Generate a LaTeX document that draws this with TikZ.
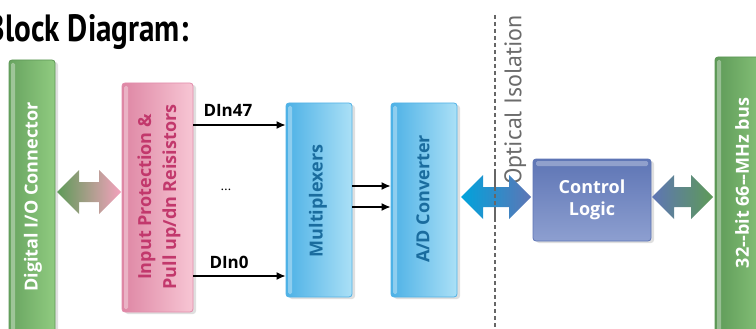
\documentclass[tikz,border=0pt]{standalone}
\usepackage{fontspec}
\setmainfont{PT Sans}
\newfontfamily\blockfont{Open Sans}
\usetikzlibrary{arrows,arrows.meta,positioning,calc,shadows}

\definecolor{grnD}{HTML}{5E9A58}
\definecolor{grnL}{HTML}{90CB80}
\definecolor{grnE}{HTML}{5C9655}
\definecolor{pnkD}{HTML}{DE86A4}
\definecolor{pnkL}{HTML}{F7C6D4}
\definecolor{pnkE}{HTML}{E38DAC}
\definecolor{pnkT}{HTML}{C2386C}
\definecolor{bluD}{HTML}{4DB1E6}
\definecolor{bluL}{HTML}{ABE0F6}
\definecolor{bluE}{HTML}{52B2E6}
\definecolor{bluT}{HTML}{1A6C9E}
\definecolor{ctlD}{HTML}{5E75B5}
\definecolor{ctlL}{HTML}{8D9FD0}
\definecolor{cyanA}{HTML}{00A3DC}
\definecolor{arrP}{HTML}{F4A2BD}

% double headed block arrow between two named points
\newcommand{\dblarrow}[4]{%
  \path[left color=#3, right color=#4]
    let \p1=(#1), \p2=(#2) in
    (\x1,\y1) -- (\x1+22pt,\y1+22pt) -- (\x1+22pt,\y1+10pt)
    -- (\x2-22pt,\y2+10pt) -- (\x2-22pt,\y2+22pt) -- (\x2,\y2)
    -- (\x2-22pt,\y2-22pt) -- (\x2-22pt,\y2-10pt)
    -- (\x1+22pt,\y1-10pt) -- (\x1+22pt,\y1-22pt) -- cycle;
}

\begin{document}
\begin{tikzpicture}[x=1pt,y=-1pt,>={Latex[length=9pt,width=8pt]},
    block/.style={rounded corners=3pt, line width=0.8pt, inner sep=0pt,
      drop shadow={shadow xshift=3pt,shadow yshift=-2pt,fill=black!25}},
    gloss/.style={path picture={
      \fill[white,opacity=0.35,rounded corners=1.5pt]
        ([xshift=2pt,yshift=-3pt]path picture bounding box.north west)
        rectangle ([xshift=6pt,yshift=3pt]path picture bounding box.south west);}},
    greenbar/.style={block, gloss, draw=grnE, left color=grnD!80!grnL, right color=grnL},
    pinkbox/.style={block, gloss, draw=pnkE, left color=pnkD, right color=pnkL},
    bluebox/.style={block, gloss, draw=bluE, left color=bluD, right color=bluL},
    ctlbox/.style={block, draw=ctlD, top color=ctlD, bottom color=ctlL,
      path picture={\fill[white,opacity=0.3,rounded corners=1.5pt]
        ([xshift=3pt,yshift=-2pt]path picture bounding box.north west)
        rectangle ([xshift=-3pt,yshift=-7pt]path picture bounding box.north east);}},
    boxtext/.style={font=\blockfont\bfseries\fontsize{18}{25}\selectfont, align=center},
    sigline/.style={->, line width=1.5pt, black},
    siglabel/.style={font=\blockfont\bfseries\fontsize{17}{20}\selectfont, anchor=base west},
    isoline/.style={draw=black!60, line width=2pt, dash pattern=on 4pt off 3pt}]

  \useasboundingbox (0,0) rectangle (756,329);

  % title
  \node[font=\bfseries\fontsize{38}{40}\selectfont, anchor=base east]
    (title) at (192,42) {\scalebox{0.82}[1]{Block Diagram:}};

  % blocks
  \node[greenbar, minimum width=46pt, minimum height=280pt] (dio) at (32,200) {};
  \node[pinkbox, minimum width=71pt, minimum height=229pt] (prot) at (157.5,197.5) {};
  \node[bluebox, minimum width=66pt, minimum height=194pt] (mux) at (319,200) {};
  \node[bluebox, minimum width=66pt, minimum height=194pt] (adc) at (424,200) {};
  \node[ctlbox, minimum width=118pt, minimum height=82pt] (ctrl) at (592,200) {};
  \node[greenbar, left color=grnD, right color=grnL, minimum width=60pt,
    minimum height=283pt] (bus) at (745,198.5) {};

  % block texts
  \node[boxtext, rotate=90, text=white] (diotxt) at (33,197) {Digital I/O Connector};
  \node[boxtext, rotate=90, text=pnkT] (prottxt) at (159,197)
    {Input Protection \&\\Pull up/dn Reisistors};
  \node[boxtext, rotate=90, text=bluT] (muxtxt) at (318,201) {Multiplexers};
  \node[boxtext, rotate=90, text=bluT] (adctxt) at (423,199) {A/D Converter};
  \node[boxtext, font=\blockfont\bfseries\fontsize{18}{22}\selectfont, text=white]
    (ctrltxt) at (592,200) {Control\\Logic};
  \node[boxtext, rotate=90, text=white] (bustxt) at (742,183) {32--bit 66--MHz bus};

  % isolation barrier
  \coordinate (isotop) at (495,15);
  \coordinate (isobot) at (495,334);
  \draw[isoline] (isotop) -- (isobot);
  \node[font=\fontsize{24}{24}\selectfont, text=black!58, rotate=90, anchor=north east,
    inner sep=0pt] (isotxt) at (504,15) {Optical Isolation};

  % digital inputs
  \coordinate (in47) at (prot.east |- 0,125);
  \coordinate (in0) at (prot.east |- 0,276);
  \draw[sigline] (in47) -- (in47 -| mux.west);
  \draw[sigline] (in0) -- (in0 -| mux.west);
  \node[siglabel] (l47) at (200,117) {DIn47};
  \node[siglabel] (l0) at (206,268) {DIn0};
  \node[font=\fontsize{14}{14}\selectfont] (dots) at (226,190) {\dots};

  % mux to converter
  \coordinate (mx1) at (mux.east |- 0,186);
  \coordinate (mx2) at (mux.east |- 0,207);
  \draw[sigline] (mx1) -- (mx1 -| adc.west);
  \draw[sigline] (mx2) -- (mx2 -| adc.west);

  % block arrows
  \coordinate (a1) at (57,192);
  \coordinate (b1) at (121,192);
  \coordinate (a2) at (461,197);
  \coordinate (b2) at (531,197);
  \coordinate (a3) at (652,197);
  \coordinate (b3) at (713,197);
  \dblarrow{a1}{b1}{grnD}{arrP}
  \dblarrow{a2}{b2}{cyanA}{ctlD}
  \dblarrow{a3}{b3}{ctlD}{grnD}
  \draw[isoline] (isotop |- a2) ++(0,-24) -- ++(0,48);
\end{tikzpicture}
\end{document}
